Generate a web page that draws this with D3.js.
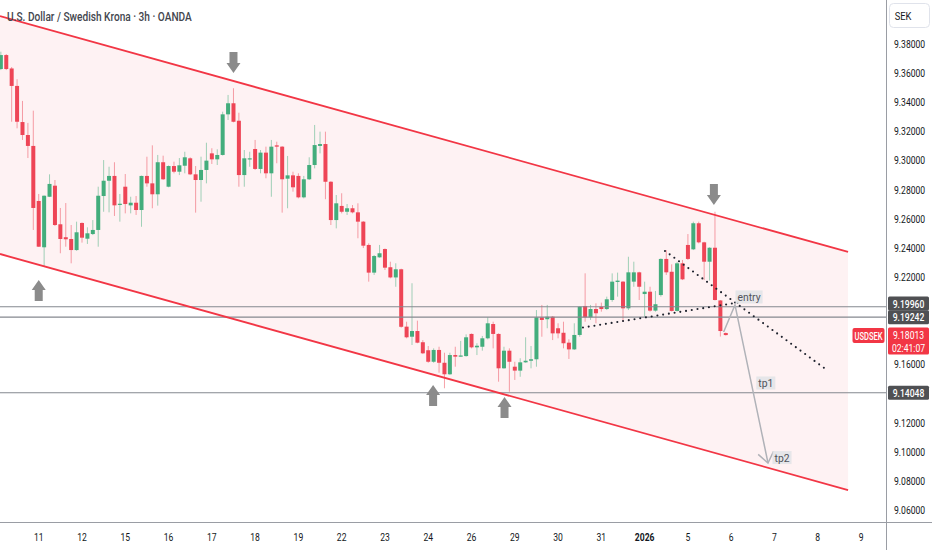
<!DOCTYPE html>
<html lang="en">
<head>
<meta charset="utf-8" />
<title>USDSEK 3h</title>
<script src="https://cdn.jsdelivr.net/npm/d3@7"></script>
<style>
  html, body { margin: 0; padding: 0; background: #fff; overflow: hidden; }
  svg { display: block; font-family: Roboto, "Noto Sans", sans-serif; }
</style>
</head>
<body>
<div id="chart"></div>
<script>
// 3h candles, oldest first
var candleOpen = [
  9.3628, 9.3724, 9.3632, 9.3512, 9.3264, 9.3175, 9.3100, 9.2722, 9.2404, 9.2751,
  9.2827, 9.2562, 9.2473, 9.2461, 9.2385, 9.2571, 9.2463, 9.2495, 9.2523, 9.2756,
  9.2861, 9.2894, 9.2698, 9.2820, 9.2692, 9.2710, 9.2660, 9.2894, 9.2843, 9.2768,
  9.2988, 9.2820, 9.2962, 9.2923, 9.2964, 9.3015, 9.2905, 9.2866, 9.2935, 9.3049,
  9.3008, 9.3038, 9.3317, 9.3393, 9.3273, 9.2900, 9.3008, 9.3079, 9.2942, 9.3054,
  9.2912, 9.3104, 9.3095, 9.2875, 9.2898, 9.2894, 9.2747, 9.2871, 9.2969, 9.3100,
  9.3113, 9.2854, 9.2591, 9.2688, 9.2648, 9.2672, 9.2644, 9.2580, 9.2420, 9.2230,
  9.2335, 9.2392, 9.2267, 9.2197, 9.2253, 9.1859, 9.1790, 9.1829, 9.1752, 9.1697,
  9.1618, 9.1699, 9.1611, 9.1532, 9.1664, 9.1655, 9.1657, 9.1809, 9.1717, 9.1721,
  9.1779, 9.1877, 9.1809, 9.1573, 9.1694, 9.1584, 9.1557, 9.1614, 9.1625, 9.1635,
  9.1923, 9.1910, 9.1927, 9.1848, 9.1817, 9.1749, 9.1703, 9.1802, 9.2001, 9.1923,
  9.1980, 9.1996, 9.1980, 9.2042, 9.2166, 9.2168, 9.1985, 9.2168, 9.2232, 9.2083,
  9.2099, 9.1969, 9.2076, 9.2324, 9.2236, 9.1967, 9.2294, 9.2420, 9.2390, 9.2569,
  9.2438, 9.2305, 9.2401, 9.2039, 9.1815
];
var candleHigh = [
  9.3747, 9.3731, 9.3642, 9.3558, 9.3409, 9.3258, 9.3342, 9.2770, 9.2760, 9.2905,
  9.2866, 9.2674, 9.2708, 9.2557, 9.2580, 9.2575, 9.2541, 9.2591, 9.2820, 9.3003,
  9.2957, 9.2988, 9.2770, 9.2907, 9.2751, 9.2756, 9.2896, 9.3026, 9.3104, 9.3038,
  9.3033, 9.2966, 9.2992, 9.3017, 9.3060, 9.3022, 9.2962, 9.3026, 9.3122, 9.3084,
  9.3077, 9.3335, 9.3450, 9.3496, 9.3328, 9.3072, 9.3060, 9.3141, 9.3072, 9.3095,
  9.3141, 9.3129, 9.3099, 9.3031, 9.2923, 9.2912, 9.2894, 9.3022, 9.3244, 9.3198,
  9.3198, 9.2858, 9.2763, 9.2775, 9.2701, 9.2694, 9.2706, 9.2584, 9.2431, 9.2351,
  9.2420, 9.2396, 9.2305, 9.2294, 9.2257, 9.1893, 9.2157, 9.1900, 9.1767, 9.1726,
  9.1710, 9.1721, 9.1680, 9.1680, 9.1721, 9.1761, 9.1806, 9.1812, 9.1745, 9.1795,
  9.1923, 9.1893, 9.1813, 9.1721, 9.1710, 9.1618, 9.1642, 9.1786, 9.1726, 9.1973,
  9.2008, 9.2008, 9.1932, 9.1882, 9.1893, 9.1772, 9.1882, 9.1999, 9.2225, 9.2008,
  9.2019, 9.2024, 9.2065, 9.2225, 9.2230, 9.2172, 9.2339, 9.2305, 9.2236, 9.2168,
  9.2133, 9.2104, 9.2328, 9.2385, 9.2287, 9.2305, 9.2317, 9.2495, 9.2580, 9.2580,
  9.2442, 9.2404, 9.2648, 9.2042, 9.1819
];
var candleLow = [
  9.3621, 9.3621, 9.3266, 9.3221, 9.3141, 9.3017, 9.2523, 9.2406, 9.2271, 9.2749,
  9.2550, 9.2363, 9.2408, 9.2294, 9.2380, 9.2436, 9.2427, 9.2488, 9.2408, 9.2648,
  9.2644, 9.2619, 9.2580, 9.2637, 9.2637, 9.2626, 9.2545, 9.2820, 9.2672, 9.2690,
  9.2866, 9.2816, 9.2912, 9.2900, 9.2912, 9.2900, 9.2642, 9.2717, 9.2843, 9.2976,
  9.2969, 9.3034, 9.3278, 9.3262, 9.2820, 9.2820, 9.2957, 9.2935, 9.2912, 9.2878,
  9.2751, 9.2981, 9.2642, 9.2672, 9.2786, 9.2740, 9.2740, 9.2866, 9.2946, 9.3049,
  9.2734, 9.2557, 9.2534, 9.2637, 9.2626, 9.2637, 9.2466, 9.2399, 9.2168, 9.2214,
  9.2332, 9.2248, 9.2191, 9.2133, 9.1852, 9.1779, 9.1733, 9.1745, 9.1671, 9.1611,
  9.1611, 9.1543, 9.1436, 9.1528, 9.1584, 9.1653, 9.1653, 9.1710, 9.1664, 9.1694,
  9.1772, 9.1710, 9.1481, 9.1570, 9.1412, 9.1493, 9.1515, 9.1611, 9.1573, 9.1584,
  9.1790, 9.1848, 9.1767, 9.1779, 9.1710, 9.1637, 9.1699, 9.1790, 9.1893, 9.1905,
  9.1882, 9.1962, 9.1973, 9.2030, 9.2065, 9.1893, 9.1973, 9.2133, 9.2042, 9.1927,
  9.1962, 9.1962, 9.2065, 9.2214, 9.1963, 9.1963, 9.2179, 9.2317, 9.2385, 9.2431,
  9.2179, 9.2175, 9.2039, 9.1791, 9.1798
];
var candleClose = [
  9.3724, 9.3628, 9.3512, 9.3266, 9.3175, 9.3100, 9.2674, 9.2408, 9.2758, 9.2839,
  9.2557, 9.2461, 9.2459, 9.2385, 9.2507, 9.2470, 9.2500, 9.2523, 9.2758, 9.2861,
  9.2894, 9.2692, 9.2703, 9.2701, 9.2710, 9.2660, 9.2894, 9.2843, 9.2768, 9.2988,
  9.2871, 9.2962, 9.2923, 9.2967, 9.3022, 9.2905, 9.2866, 9.2935, 9.2999, 9.3008,
  9.3038, 9.3317, 9.3393, 9.3266, 9.2900, 9.3015, 9.3015, 9.2942, 9.3054, 9.2912,
  9.3095, 9.3095, 9.2871, 9.2898, 9.2816, 9.2747, 9.2871, 9.2969, 9.3106, 9.3113,
  9.2854, 9.2591, 9.2706, 9.2648, 9.2672, 9.2644, 9.2580, 9.2415, 9.2230, 9.2344,
  9.2363, 9.2264, 9.2197, 9.2253, 9.1858, 9.1786, 9.1829, 9.1749, 9.1676, 9.1618,
  9.1699, 9.1611, 9.1532, 9.1664, 9.1653, 9.1661, 9.1786, 9.1717, 9.1728, 9.1779,
  9.1882, 9.1809, 9.1573, 9.1694, 9.1618, 9.1557, 9.1614, 9.1625, 9.1635, 9.1923,
  9.1905, 9.1927, 9.1813, 9.1813, 9.1745, 9.1703, 9.1802, 9.1996, 9.1923, 9.1980,
  9.1951, 9.1980, 9.2047, 9.2168, 9.2175, 9.1985, 9.2232, 9.2232, 9.2133, 9.2099,
  9.1969, 9.2013, 9.2324, 9.2232, 9.1967, 9.2294, 9.2184, 9.2324, 9.2569, 9.2438,
  9.2305, 9.2401, 9.2042, 9.1829, 9.18013
];

// time axis: bar index of the first bar of each labelled day
var dayLabels = ["11", "12", "15", "16", "17", "18", "19", "22", "23", "24",
                 "26", "29", "30", "31", "2026", "5", "6", "7", "8", "9"];
var dayIndex = [7, 15, 23, 31, 39, 47, 55, 63, 71, 79,
                87, 95, 103, 111, 119, 127, 135, 143, 151, 159];

// price axis
var priceTicks = [9.38, 9.36, 9.34, 9.32, 9.30, 9.28, 9.26, 9.24, 9.22,
                  9.16, 9.12, 9.10, 9.08, 9.06];
var levelPrices = [9.19960, 9.19242, 9.14048];
var lastPrice = 9.18013;
var countdown = "02:41:07";

// drawings, [bar index, price]
var channelTop = [[-0.16, 9.3992], [156.6, 9.2372]];
var channelBottom = [[-0.16, 9.2358], [156.6, 9.0737]];
var trendDown = [[122.76, 9.2379], [152.7, 9.1561]];
var trendUp = [[107.6, 9.1853], [136.3, 9.2025]];
var planPath = [[133.6, 9.1822], [135.7, 9.2008], [141.8, 9.0923]];
var noteText = ["entry", "tp1", "tp2"];
var noteIndex = [138.3, 141.4, 144.4];
var notePrice = [9.2063, 9.1472, 9.0960];
var arrowIndex = [43, 131.8, 7, 79.9, 93.1];
var arrowPrice = [9.3601, 9.2694, 9.2179, 9.1458, 9.1376];
var arrowDir = ["down", "down", "up", "up", "up"];

var W = 932, H = 550, plotW = 886, plotH = 523;
var upCol = "#43ad7c", downCol = "#ee4556";

var x = d3.scaleLinear().domain([0, 163]).range([0.85, 0.85 + 5.41 * 163]);
var y = d3.scaleLinear().domain([9.05176, 9.41021]).range([522, 0]);

var svg = d3.select("#chart").append("svg")
    .attr("width", W).attr("height", H);
svg.append("rect").attr("width", W).attr("height", H).attr("fill", "#fff");

svg.append("defs").append("clipPath").attr("id", "plot")
  .append("rect").attr("width", plotW).attr("height", plotH);

var plot = svg.append("g").attr("clip-path", "url(#plot)");

// narrow the text horizontally (the chart face is a condensed one)
function squeeze(sel, k) {
  sel.each(function () {
    var t = d3.select(this);
    var tx = +t.attr("x"), ty = +t.attr("y");
    t.attr("x", null).attr("y", null)
      .attr("transform", "translate(" + tx + "," + ty + ") scale(" + k + ",1)");
  });
}

// channel fill
var poly = [channelTop[0], channelTop[1], channelBottom[1], channelBottom[0]];
plot.append("path")
  .attr("d", "M" + poly.map(function (d) { return x(d[0]) + "," + y(d[1]); }).join("L") + "Z")
  .attr("fill", "#f23645").attr("fill-opacity", 0.065);

// candles
var bars = d3.range(candleOpen.length).map(function (i) {
  return { i: i, o: candleOpen[i], h: candleHigh[i], l: candleLow[i], c: candleClose[i] };
});
var cg = plot.append("g");
cg.selectAll("line.wick").data(bars).enter().append("line")
  .attr("x1", function (d) { return x(d.i); })
  .attr("x2", function (d) { return x(d.i); })
  .attr("y1", function (d) { return y(d.h); })
  .attr("y2", function (d) { return y(d.l); })
  .attr("stroke", function (d) { return d.c >= d.o ? upCol : downCol; })
  .attr("stroke-opacity", 0.5)
  .attr("stroke-width", 1);
cg.selectAll("rect.body").data(bars).enter().append("rect")
  .attr("x", function (d) { return x(d.i) - 2; })
  .attr("width", 4)
  .attr("y", function (d) { return y(Math.max(d.o, d.c)); })
  .attr("height", function (d) { return Math.max(1.2, Math.abs(y(d.o) - y(d.c))); })
  .attr("fill", function (d) { return d.c >= d.o ? upCol : downCol; });

// horizontal levels
plot.selectAll("line.level").data(levelPrices).enter().append("line")
  .attr("x1", 0).attr("x2", plotW)
  .attr("y1", function (d) { return y(d); })
  .attr("y2", function (d) { return y(d); })
  .attr("stroke", "#85888f").attr("stroke-width", 1.1);

// channel borders
[channelTop, channelBottom].forEach(function (seg) {
  plot.append("line")
    .attr("x1", x(seg[0][0])).attr("y1", y(seg[0][1]))
    .attr("x2", x(seg[1][0])).attr("y2", y(seg[1][1]))
    .attr("stroke", "#f23645").attr("stroke-width", 1.8);
});

// dotted trend lines
[trendDown, trendUp].forEach(function (seg) {
  plot.append("line")
    .attr("x1", x(seg[0][0])).attr("y1", y(seg[0][1]))
    .attr("x2", x(seg[1][0])).attr("y2", y(seg[1][1]))
    .attr("stroke", "#1e222d").attr("stroke-width", 2.1)
    .attr("stroke-linecap", "round").attr("stroke-dasharray", "0 5.8");
});

// trade plan path with arrow head
var pp = planPath.map(function (d) { return [x(d[0]), y(d[1])]; });
plot.append("path")
  .attr("d", d3.line()(pp))
  .attr("fill", "none").attr("stroke", "#b0b2b8").attr("stroke-width", 1.5);
var tip = pp[pp.length - 1], prev = pp[pp.length - 2];
var ang = Math.atan2(tip[1] - prev[1], tip[0] - prev[0]);
var head = [ang + Math.PI - 0.65, ang + Math.PI + 0.65].map(function (a) {
  return [tip[0] + 13 * Math.cos(a), tip[1] + 13 * Math.sin(a)];
});
plot.append("path")
  .attr("d", d3.line()([head[0], tip, head[1]]))
  .attr("fill", "none").attr("stroke", "#b0b2b8").attr("stroke-width", 1.5);

// note labels
noteText.forEach(function (t, k) {
  var g = plot.append("g");
  var tx = x(noteIndex[k]), ty = y(notePrice[k]);
  var rect = g.append("rect").attr("fill", "#e3e4e8").attr("fill-opacity", 0.9);
  var txt = g.append("text").attr("x", tx).attr("y", ty + 4)
    .attr("text-anchor", "middle").attr("font-size", 11.5)
    .attr("fill", "#50535b").text(t);
  var w = txt.node().getComputedTextLength() * 0.9 + 4;
  squeeze(txt, 0.9);
  rect.attr("x", tx - w / 2).attr("y", ty - 6.5).attr("width", w).attr("height", 13);
});

// grey arrows
arrowIndex.forEach(function (ai, k) {
  var cx = x(ai), ty = y(arrowPrice[k]), s = arrowDir[k] === "down" ? -1 : 1;
  var pts = [[cx, ty], [cx - 7, ty + s * 10], [cx - 4, ty + s * 10], [cx - 4, ty + s * 21],
             [cx + 4, ty + s * 21], [cx + 4, ty + s * 10], [cx + 7, ty + s * 10]];
  plot.append("path").attr("d", d3.line()(pts) + "Z").attr("fill", "#8b8b8b");
});

// axes frame
svg.append("line").attr("x1", 0).attr("x2", W).attr("y1", 522.5).attr("y2", 522.5)
  .attr("stroke", "#9a9da4").attr("stroke-width", 1);
svg.append("line").attr("x1", plotW + 0.5).attr("x2", plotW + 0.5).attr("y1", 0).attr("y2", H)
  .attr("stroke", "#9a9da4").attr("stroke-width", 1);

// price ticks
var tk = svg.append("g").selectAll("text").data(priceTicks).enter().append("text")
  .attr("x", 894).attr("y", function (d) { return y(d) + 4; })
  .attr("font-size", 11).attr("fill", "#131722")
  .text(function (d) { return d.toFixed(5); });
squeeze(tk, 0.78);

// date ticks
var dt = svg.append("g").selectAll("text").data(dayLabels).enter().append("text")
  .attr("x", function (d, k) { return x(dayIndex[k]); })
  .attr("y", 541)
  .attr("text-anchor", "middle").attr("font-size", 11).attr("fill", "#131722")
  .attr("font-weight", function (d) { return d.length === 4 ? 700 : 400; })
  .text(function (d) { return d; });
squeeze(dt, 0.78);

// level labels on the price scale
var levelNudge = [-3.2, 0, 0];
levelPrices.forEach(function (p, k) {
  var cy = y(p) + levelNudge[k];
  svg.append("rect").attr("x", 888).attr("y", cy - 7).attr("width", 41).attr("height", 14)
    .attr("rx", 1.5).attr("fill", "#4f5053");
  var t = svg.append("text").attr("x", 908.5).attr("y", cy + 4)
    .attr("text-anchor", "middle").attr("font-size", 11).attr("fill", "#fff")
    .attr("font-weight", 500).text(p.toFixed(5));
  squeeze(t, 0.78);
});

// last price
var ly = y(lastPrice);
svg.append("rect").attr("x", 852.5).attr("y", ly - 7).attr("width", 32).attr("height", 15)
  .attr("rx", 2).attr("fill", "#f23645");
var sym = svg.append("text").attr("x", 868.5).attr("y", ly + 4.5).attr("text-anchor", "middle")
  .attr("font-size", 10.5).attr("font-weight", 500).attr("fill", "#fff").text("USDSEK");
squeeze(sym, 0.72);
svg.append("rect").attr("x", 888).attr("y", ly - 7.5).attr("width", 41).attr("height", 27)
  .attr("rx", 1.5).attr("fill", "#f23645");
var lp = svg.append("text").attr("x", 908.5).attr("y", ly + 4).attr("text-anchor", "middle")
  .attr("font-size", 11).attr("fill", "#fff").text(lastPrice.toFixed(5));
squeeze(lp, 0.78);
var cd = svg.append("text").attr("x", 908.5).attr("y", ly + 16.5).attr("text-anchor", "middle")
  .attr("font-size", 11).attr("fill", "#fff").text(countdown);
squeeze(cd, 0.78);

// currency box
svg.append("rect").attr("x", 889.5).attr("y", 3.5).attr("width", 40).attr("height", 24)
  .attr("rx", 4).attr("fill", "#fff").attr("stroke", "#e0e3eb");
var cur = svg.append("text").attr("x", 903).attr("y", 20).attr("text-anchor", "middle")
  .attr("font-size", 11).attr("fill", "#131722").text("SEK");
squeeze(cur, 0.85);

// title
var title = svg.append("text").attr("x", 7).attr("y", 21)
  .attr("font-size", 13).attr("font-weight", 500).attr("fill", "#43464e")
  .text("U.S. Dollar / Swedish Krona \u00b7 3h \u00b7 OANDA");
squeeze(title, 185 / title.node().getComputedTextLength());
</script>
</body>
</html>
